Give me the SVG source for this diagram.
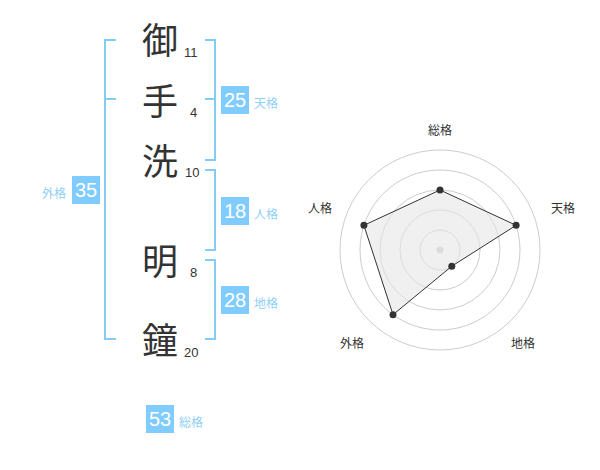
<svg xmlns="http://www.w3.org/2000/svg" width="600" height="470" viewBox="0 0 600 470">
<style>
.k{font-family:"Noto Sans CJK JP","Noto Sans CJK SC",sans-serif;font-size:36px;fill:#333;text-anchor:middle}
.n{font-family:"Liberation Sans",Arial,sans-serif;font-size:13px;fill:#333}
.br{fill:none;stroke:#82ccf5;stroke-width:2}
.box{fill:#80ccff}
.bn{font-family:"Liberation Sans",Arial,sans-serif;font-size:20px;fill:#fff;text-anchor:middle}
.bl{font-family:"Noto Sans CJK JP","Noto Sans CJK SC",sans-serif;font-size:12px;fill:#8fd0f5}
.rl{font-family:"Noto Sans CJK JP","Noto Sans CJK SC",sans-serif;font-size:12px;fill:#333;text-anchor:middle}
.ring{fill:none;stroke:#ccc;stroke-width:1}
.pt{fill:#333}
</style>
<rect width="600" height="470" fill="#fff"/>
<g id="names">
<g id="c1"><text class="k" x="160" y="54">御</text><text class="n" x="184" y="57">11</text></g>
<g id="c2"><text class="k" x="160" y="115">手</text><text class="n" x="190" y="117">4</text></g>
<g id="c3"><text class="k" x="160" y="175">洗</text><text class="n" x="185" y="177">10</text></g>
<g id="c4"><text class="k" x="160" y="275">明</text><text class="n" x="190" y="277">8</text></g>
<g id="c5"><text class="k" x="160" y="354">鐘</text><text class="n" x="184" y="357">20</text></g>
</g>
<g id="connectors">
<path class="br" d="M116,40 H105 V339 H116 M105,99 H116"/>
<path class="br" d="M205,40 H215 V160 H205 M215,99 H205"/>
<path class="br" d="M205,170 H215 V250 H205"/>
<path class="br" d="M205,260 H215 V339 H205"/>
</g>
<g id="tenkaku"><rect class="box" x="221" y="86" width="28" height="28"/><text class="bn" x="235" y="107">25</text><text class="bl" x="254" y="108">天格</text></g>
<g id="jinkaku"><rect class="box" x="221" y="197" width="28" height="28"/><text class="bn" x="235" y="218">18</text><text class="bl" x="254" y="219">人格</text></g>
<g id="chikaku"><rect class="box" x="221" y="286" width="28" height="28"/><text class="bn" x="235" y="307">28</text><text class="bl" x="254" y="308">地格</text></g>
<g id="gaikaku"><rect class="box" x="72" y="176" width="28" height="28"/><text class="bn" x="86" y="197">35</text><text class="bl" x="66" y="198" text-anchor="end">外格</text></g>
<g id="soukaku"><rect class="box" x="146" y="405" width="28" height="28"/><text class="bn" x="160" y="426">53</text><text class="bl" x="179" y="427">総格</text></g>
<g id="radar">
<circle class="ring" cx="440" cy="250" r="20"/>
<circle class="ring" cx="440" cy="250" r="40"/>
<circle class="ring" cx="440" cy="250" r="60"/>
<circle class="ring" cx="440" cy="250" r="80"/>
<circle class="ring" cx="440" cy="250" r="100"/>
<circle cx="440" cy="250" r="3.5" fill="#ccc"/>
<polygon points="440,190 516.1,225.3 451.8,266.2 393,314.7 363.9,225.3" fill="#e6e6e6" fill-opacity="0.6" stroke="#333" stroke-width="1"/>
<circle class="pt" cx="440" cy="190" r="3.5"/>
<circle class="pt" cx="516.1" cy="225.3" r="3.5"/>
<circle class="pt" cx="451.8" cy="266.2" r="3.5"/>
<circle class="pt" cx="393" cy="314.7" r="3.5"/>
<circle class="pt" cx="363.9" cy="225.3" r="3.5"/>
<text class="rl" x="440" y="135">総格</text>
<text class="rl" x="563" y="213">天格</text>
<text class="rl" x="523" y="348">地格</text>
<text class="rl" x="352" y="348">外格</text>
<text class="rl" x="320" y="213">人格</text>
</g>
</svg>
